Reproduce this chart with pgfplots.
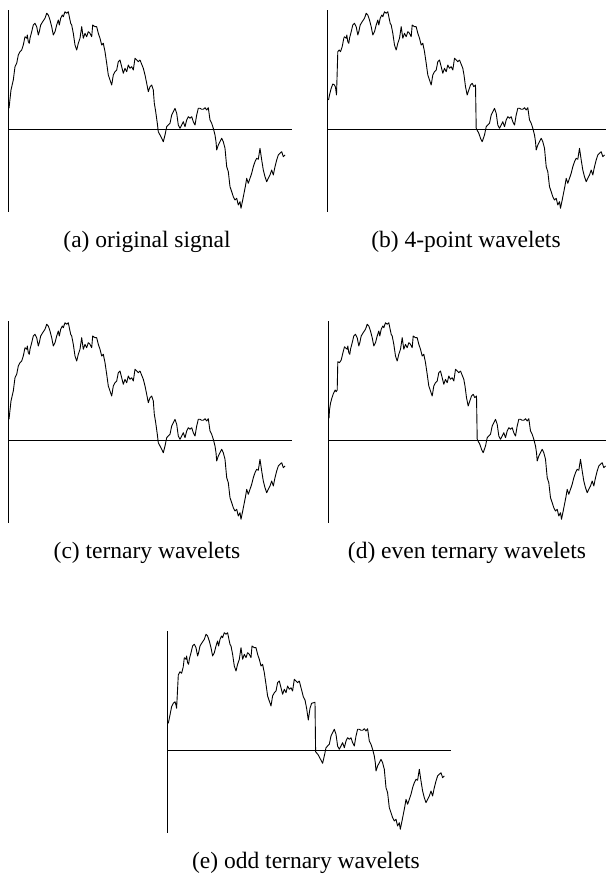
\documentclass[border=0pt]{standalone}
\usepackage{fontspec}
\setmainfont{Liberation Serif}
\usepackage{pgfplots}
\usepackage{pgfplotstable}
\pgfplotsset{compat=1.18}

% shared middle part of the signal (x from 25 to 140)
\pgfplotstableread{
x v
25 92.3
26.7 90.7
27.3 94
28.3 87.3
29.3 85.7
30 90.7
31.7 97.3
33.3 104
35 105.7
36.7 102.3
38.3 94
39.3 97.3
40.7 104
42.7 107.3
45 110.7
46.7 115.7
48.3 114
50 109
51.7 102.3
53.3 94
55 97.3
56.7 104
58.3 109
59.3 104
60.7 110.7
62.3 114
63.3 112.3
65 117.3
66.7 115.7
68.3 117.3
69.3 112.3
70.7 105.7
71.7 104
73.3 95.7
75 84
76.7 79
78.3 85.7
80 90.7
81.7 102.3
83.3 90.7
85 95.7
86.7 92.3
88.3 97.3
90 95.7
91.7 92.3
92.7 104
95 102.3
96.7 102.3
98.3 95.7
100 90.7
101.7 84
103.3 85.7
105 77.3
106.7 65.7
108.3 54
110 49
111.7 44
113.3 54
115 57.3
116.7 59
118.3 67.3
120 69
121.7 62.3
123.3 55.7
125 60.7
126.7 57.3
128.3 64
130 60.7
131.7 62.3
133.3 59
135 70.7
136.7 69
138.3 67.3
140 69
}\sigMid

% shared tail of the signal (x from 165 on)
\pgfplotstableread{
x v
165 -6
166.7 2.3
168.3 4
170 5.7
171.7 14
173.3 17.3
175 20.7
176.7 15.7
178.3 4
180 0.7
181.7 4
183.3 7.3
185 2.3
186.7 9
188.3 12.3
190 10.7
191.7 12.3
193.3 7.3
195 4
196.7 14
198.3 20.7
200 20.7
201.7 19.7
203.3 19.7
205 21.3
206.7 19
208.3 21.3
210 9
211.7 5.7
213.3 0.7
215 -6
216 -12.7
216.7 -21
218.3 -16
220 -12.7
221.7 -9.3
223.3 -12.7
225 -19.3
226.7 -37.7
228.3 -42.7
230 -57.7
231.7 -62.7
233.3 -67.7
235 -71
236.7 -69.3
238.3 -76
240 -72.7
241 -79.3
242.7 -71
244 -64.3
245.3 -57.7
246.7 -49.3
248.3 -54.3
250 -49.3
251.7 -44.3
253.3 -37.7
255 -32.7
256.7 -29.3
258.3 -30.3
260 -19.3
261.7 -31
263.3 -41
265 -47.7
266.7 -52.7
268.3 -49.3
270 -46
271.7 -41
273.3 -46
275 -37.7
276.7 -31
278.3 -26
280 -24.3
281.7 -22.7
283.3 -27.7
285 -26
}\sigTail

% starts
\pgfplotstableread{
x v
9 20.7
11 39
13.3 49
15 62.3
16.7 65.7
18.3 74
20 77.3
21.7 79
23.3 84
}\startA
\pgfplotstableread{
x v
9 29
10 34
11.7 40.7
13.3 45
15 44
16 41.7
17 34
18.3 77.3
19.7 79
21 77.3
22.7 82.3
24.3 90.7
}\startB
\pgfplotstableread{
x v
8.5 21.7
9 30
10 36.7
11.3 41.7
13 46.7
14.7 50
15.7 48.3
16.7 50
17.3 78.3
19 77.3
20.7 80
22.3 86.7
24 93.3
}\startD
\pgfplotstableread{
x v
9 26.7
10.7 35
12.3 43.3
14 46.7
15.7 48.3
16.7 45
17.3 41.7
19 75
20.7 78.3
22.3 76.7
24 83.3
}\startE

% middle sections (x 140 to 165)
\pgfplotstableread{
x v
140 69
143.3 60.7
145 54
146.7 45.7
148.3 37.3
150 42.3
151.7 44
153.3 39
154.3 25.7
155.7 17.3
157.3 5.7
158.3 -2.7
160 -6
161.7 -9.3
163.3 -12.7
165 -6
}\midA
\pgfplotstableread{
x v
140 69
143.3 60.7
144.5 54
146 42.3
147.7 34
149.3 39
151 44
152.7 45.7
154.3 42.3
156 44
156.7 0.7
159.3 -4.3
161 -9.3
162.7 -12.7
165 -6
}\midB
\pgfplotstableread{
x v
140 69
144 53.3
145.7 50
147.3 41.7
149 30
150.7 41.7
152.3 46.7
155.7 47.7
156.3 -1.7
159 -5
160.7 -8.3
163.3 -13.3
165 -6
}\midE

\pgfplotsset{
  sig/.style={
    scale only axis, width=284bp, height=202bp,
    xmin=8, xmax=292, ymin=-83, ymax=119,
    axis x line=middle, axis y line=left,
    axis line style={-, line width=0.8bp, black},
    xtick=\empty, ytick=\empty,
    anchor=south west, clip=false,
  },
  sigline/.style={black, line width=0.9bp, no marks, line join=round},
}

\begin{document}
\begin{tikzpicture}
\useasboundingbox (0,0) rectangle (606bp,877bp);

% (a)
\begin{axis}[sig, at={(8bp,665bp)}]
\addplot[sigline] table {\startA};
\addplot[sigline] coordinates {(23.3,84) (25,92.3)};
\addplot[sigline] table {\sigMid};
\addplot[sigline] table {\midA};
\addplot[sigline] table {\sigTail};
\end{axis}

% (b)
\begin{axis}[sig, at={(327.5bp,665bp)}]
\addplot[sigline] table {\startB};
\addplot[sigline] coordinates {(24.3,90.7) (25,92.3)};
\addplot[sigline] table {\sigMid};
\addplot[sigline] table {\midB};
\addplot[sigline] table {\sigTail};
\end{axis}

% (c)
\begin{axis}[sig, at={(8bp,354bp)}]
\addplot[sigline] table {\startA};
\addplot[sigline] coordinates {(23.3,84) (25,92.3)};
\addplot[sigline] table {\sigMid};
\addplot[sigline] table {\midA};
\addplot[sigline] table {\sigTail};
\end{axis}

% (d)
\begin{axis}[sig, at={(328.5bp,354bp)}]
\addplot[sigline] table {\startD};
\addplot[sigline] coordinates {(24,93.3) (25,92.3)};
\addplot[sigline] table {\sigMid};
\addplot[sigline] table {\midB};
\addplot[sigline] table {\sigTail};
\end{axis}

% (e)
\begin{axis}[sig, at={(167.3bp,44bp)}]
\addplot[sigline] table {\startE};
\addplot[sigline] coordinates {(24,83.3) (25,92.3)};
\addplot[sigline] table {\sigMid};
\addplot[sigline] table {\midE};
\addplot[sigline] table {\sigTail};
\end{axis}

\begin{scope}[every node/.style={anchor=base, inner sep=0pt, font=\fontsize{23.5bp}{28bp}\selectfont}]
\node at (147bp,629bp) {(a) original signal};
\node at (466bp,629bp) {(b) 4-point wavelets};
\node at (147bp,318bp) {(c) ternary wavelets};
\node at (467bp,318bp) {(d) even ternary wavelets};
\node at (306bp,9bp) {(e) odd ternary wavelets};
\end{scope}
\end{tikzpicture}
\end{document}
